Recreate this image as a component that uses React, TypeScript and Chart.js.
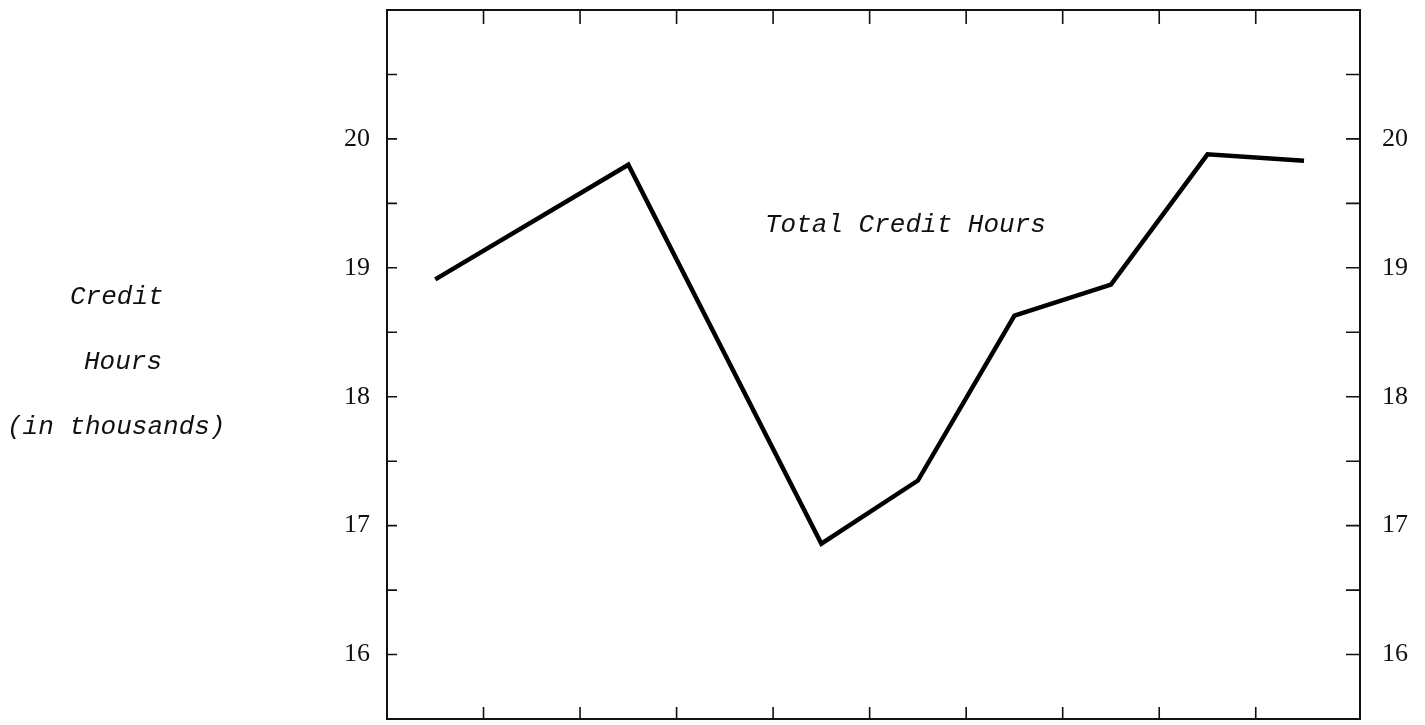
import React, { useEffect, useRef } from 'react';
import { Chart, registerables } from 'chart.js';

Chart.register(...registerables);

// Positions along the horizontal axis (each point sits midway between tick marks)
const periods = [0.5, 2.5, 4.5, 5.5, 6.5, 7.5, 8.5, 9.5];
// Total credit hours, in thousands
const creditHours = [18.91, 19.8, 16.86, 17.35, 18.63, 18.87, 19.88, 19.83];
// Labelled vertical ticks and unlabelled half-step ticks
const yTickLabels = [16, 17, 18, 19, 20];
const yMinorTicks = [16.5, 17.5, 18.5, 19.5, 20.5];
// Unlabelled tick marks along top and bottom edges
const xTicks = [1, 2, 3, 4, 5, 6, 7, 8, 9];
const seriesLabel = 'Total Credit Hours';
const axisTitleLines = ['Credit', 'Hours', '(in thousands)'];

const framePlugin = {
  id: 'frame',
  afterDraw(chart: any) {
    const { ctx, chartArea: a, scales } = chart;
    const xs = scales.x;
    const ys = scales.y;
    ctx.save();
    ctx.strokeStyle = '#111';
    ctx.lineWidth = 2;
    ctx.strokeRect(a.left, a.top, a.right - a.left, a.bottom - a.top);

    ctx.lineWidth = 1.6;
    ctx.beginPath();
    for (const v of xTicks) {
      const px = xs.getPixelForValue(v);
      ctx.moveTo(px, a.top);
      ctx.lineTo(px, a.top + 14);
      ctx.moveTo(px, a.bottom);
      ctx.lineTo(px, a.bottom - 12);
    }
    for (const v of [...yTickLabels, ...yMinorTicks]) {
      const py = ys.getPixelForValue(v);
      ctx.moveTo(a.left, py);
      ctx.lineTo(a.left + 10, py);
      ctx.moveTo(a.right, py);
      ctx.lineTo(a.right - 14, py);
    }
    ctx.stroke();

    ctx.fillStyle = '#111';
    ctx.font = '26px "Liberation Serif"';
    ctx.textBaseline = 'middle';
    for (const v of yTickLabels) {
      const py = ys.getPixelForValue(v);
      ctx.textAlign = 'right';
      ctx.fillText(String(v), a.left - 17, py);
      ctx.textAlign = 'left';
      ctx.fillText(String(v), a.right + 22, py);
    }

    ctx.font = 'italic 26px "Liberation Mono"';
    ctx.textAlign = 'left';
    const titleX = [70, 84, 7];
    const titleY = [297, 362, 427];
    axisTitleLines.forEach((t, i) => ctx.fillText(t, titleX[i], titleY[i]));
    ctx.fillText(seriesLabel, 765, 225);
    ctx.restore();
  },
};

export default function App() {
  const ref = useRef<HTMLCanvasElement | null>(null);
  useEffect(() => {
    if (!ref.current) return;
    const chart = new Chart(ref.current, {
      type: 'line',
      data: {
        datasets: [
          {
            label: seriesLabel,
            data: periods.map((p, i) => ({ x: p, y: creditHours[i] })),
            borderColor: '#000',
            borderWidth: 4.5,
            pointRadius: 0,
            tension: 0,
            fill: false,
          },
        ],
      },
      options: {
        responsive: false,
        animation: false,
        layout: { padding: { left: 387, right: 65, top: 10, bottom: 6 } },
        scales: {
          x: { type: 'linear', min: 0, max: 10.08, display: false },
          y: { type: 'linear', min: 15.5, max: 21, display: false },
        },
        plugins: { legend: { display: false }, tooltip: { enabled: false } },
      },
      plugins: [framePlugin],
    });
    return () => chart.destroy();
  }, []);
  return (
    <div style={{ position: 'fixed', left: 0, top: 0, width: 1425, height: 725, background: '#fff' }}>
      <canvas ref={ref} width={1425} height={725} style={{ width: 1425, height: 725 }} />
    </div>
  );
}
